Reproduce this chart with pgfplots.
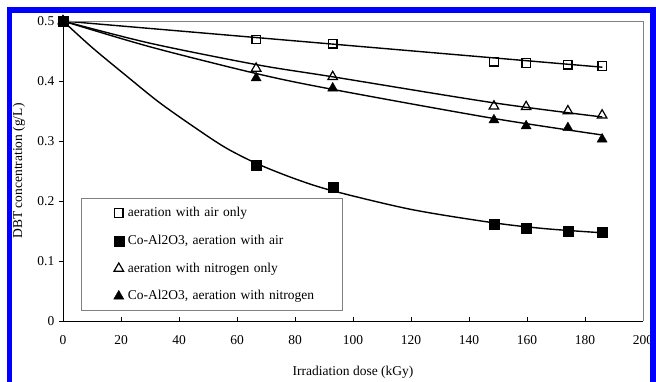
\documentclass[border=0pt]{standalone}
\usepackage{fontspec}
\setmainfont{Liberation Serif}
\usepackage{pgfplots}
\pgfplotsset{compat=1.18}
\begin{document}
\fontsize{13.5}{16}\selectfont
\begin{tikzpicture}[x=1pt,y=1pt]
\begin{axis}[
  at={(63pt,60pt)}, anchor=south west,
  scale only axis, width=580pt, height=300pt,
  xmin=0, xmax=200, ymin=0, ymax=0.5,
  axis lines=left, axis line style={-, black, line width=0.8pt},
  xtick={0,20,...,200},
  xticklabels={0,20,40,60,80,100,120,140,160,180,200},
  ytick={0,0.1,0.2,0.3,0.4,0.5},
  yticklabels={0,0.1,0.2,0.3,0.4,0.5},
  tick align=outside, major tick length=4pt,
  tick style={black, line width=0.6pt},
  xtick style={yshift=4pt},
  xticklabel style={font=\fontsize{13.5}{16}\selectfont, yshift=-6pt},
  yticklabel style={font=\fontsize{13.5}{16}\selectfont},
  clip=false,
  legend style={at={(0.031,0.41)}, anchor=north west, draw=gray, line width=0.8pt,
    font=\fontsize{13.5}{16}\selectfont, inner xsep=17pt, inner ysep=7pt,
    row sep=12.3pt, column sep=2pt, nodes={inner sep=2pt, text width=196pt, align=left}},
  legend cell align=left,
  legend image code/.code={\path (0pt,0pt); \draw[#1] plot coordinates {(20pt,0pt)};},
]
% legend images
\addlegendimage{only marks, mark=square, mark size=4.2pt, mark options={line width=1.2pt, fill=white, draw=black}}
\addlegendentry{aeration with air only}
\addlegendimage{only marks, mark=square*, mark size=5pt, mark options={line width=0.4pt, fill=black, draw=black}}
\addlegendentry{Co-Al2O3, aeration with air}
\addlegendimage{only marks, mark=triangle, mark size=5.5pt, mark options={line width=1.2pt, fill=white, draw=black}}
\addlegendentry{aeration with nitrogen only}
\addlegendimage{only marks, mark=triangle*, mark size=5.8pt, mark options={line width=0.4pt, fill=black, draw=black}}
\addlegendentry{Co-Al2O3, aeration with nitrogen}

% trend lines
\addplot[forget plot, black, line width=1.4pt] coordinates {(0,0.5) (186,0.423)};
\addplot[forget plot, black, line width=1.4pt, smooth] coordinates {
 (0,0.5) (30,0.463) (67,0.427) (93,0.407) (148,0.364) (186,0.340)};
\addplot[forget plot, black, line width=1.4pt, smooth] coordinates {
 (0,0.5) (30,0.457) (67,0.412) (93,0.386) (148,0.338) (186,0.310)};
\addplot[forget plot, black, line width=1.4pt, smooth] coordinates {
 (0,0.5) (10,0.456) (22,0.408) (33,0.365) (45,0.324) (56,0.289) (67,0.262)
 (80,0.237) (93,0.217) (120,0.186) (148,0.164) (166,0.154) (186,0.147)};

% data
\addplot[forget plot, only marks, mark=square, mark size=4.2pt, mark options={line width=1.2pt, fill=white, draw=black}]
 coordinates {(0,0.5) (66.6,0.469) (93,0.462) (148.6,0.432) (159.7,0.430) (174.1,0.427) (185.9,0.425)};
\addplot[forget plot, only marks, mark=triangle, mark size=5.5pt, mark options={line width=1.2pt, fill=white, draw=black}]
 coordinates {(0,0.5) (66.6,0.421) (93,0.407) (148.6,0.358) (159.7,0.357) (174.1,0.350) (185.9,0.343)};
\addplot[forget plot, only marks, mark=triangle*, mark size=5.8pt, mark options={line width=0.4pt, fill=black, draw=black}]
 coordinates {(0,0.5) (66.6,0.405) (93,0.388) (148.6,0.335) (159.7,0.325) (174.1,0.322) (185.9,0.303)};
\addplot[forget plot, only marks, mark=square*, mark size=5pt, mark options={line width=0.4pt, fill=black, draw=black}]
 coordinates {(0,0.5) (66.6,0.260) (93,0.223) (148.6,0.162) (159.7,0.155) (174.1,0.150) (185.9,0.148)};

\draw[gray, line width=0.8pt] (rel axis cs:0,1) -- (rel axis cs:1,1) -- (rel axis cs:1,0);
\end{axis}
\node[rotate=90] at (19,210) {DBT concentration (g/L)};
\node at (353,9) {Irradiation dose (kGy)};
\fill[blue] (7,-10) rectangle (12,374);
\fill[blue] (7,368) rectangle (670,374);
\fill[blue] (650,-10) rectangle (670,374);
\pgfresetboundingbox
\useasboundingbox (0,0) rectangle (656,381);
\end{tikzpicture}
\end{document}
